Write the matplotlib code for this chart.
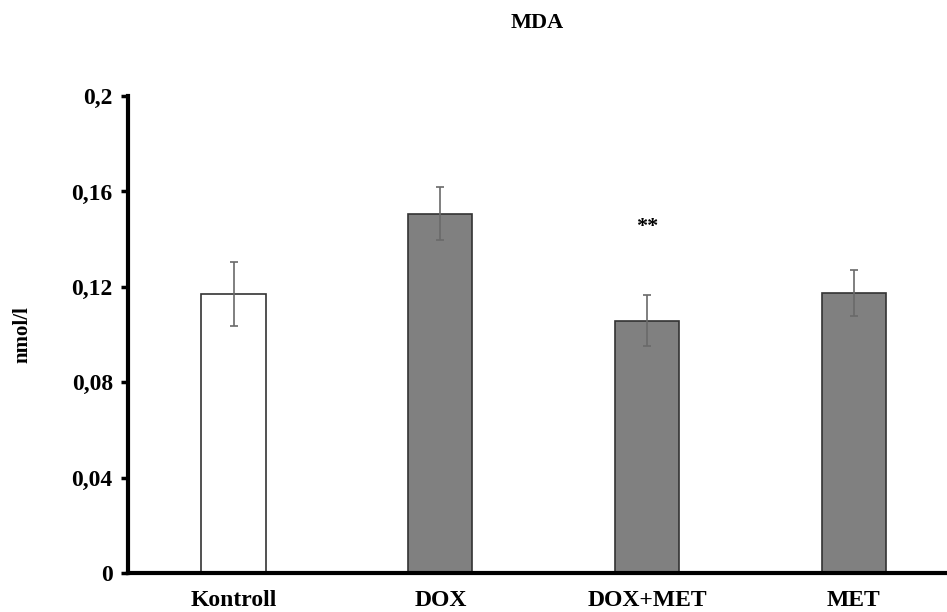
import matplotlib.pyplot as plt

groups = ["Kontroll", "DOX", "DOX+MET", "MET"]
means = [0.117, 0.1507, 0.1058, 0.1175]
errors = [0.0135, 0.011, 0.0108, 0.0097]
fills = ["white", "#808080", "#808080", "#808080"]
tick_vals = [0, 0.04, 0.08, 0.12, 0.16, 0.2]
tick_labels = ["0", "0,04", "0,08", "0,12", "0,16", "0,2"]

plt.rcParams['font.family'] = ['Liberation Serif', 'DejaVu Serif']
plt.rcParams['font.weight'] = 'bold'

fig = plt.figure(figsize=(9.47, 6.12), dpi=100)
ax = fig.add_axes([0.1352, 0.0637, 0.8648, 0.7793])

x = list(range(len(groups)))
ax.bar(x, means, width=0.31, color=fills, edgecolor="#333333", linewidth=1.2,
       yerr=errors, error_kw=dict(ecolor="#6a6a6a", elinewidth=1.2, capsize=3, capthick=1.2))

# significance mark over DOX+MET
ax.text(2, 0.1452, "**", ha="center", va="center", fontsize=16, fontweight="bold")

ax.set_xlim(-0.51, 3.45)
ax.set_ylim(0, 0.2)
ax.set_yticks(tick_vals)
ax.set_yticklabels(tick_labels, fontsize=17, fontweight="bold")
ax.set_xticks(x)
ax.set_xticklabels(groups, fontsize=17, fontweight="bold")
ax.tick_params(axis="x", length=0, pad=12)
ax.tick_params(axis="y", length=5, width=2.5, direction="out", pad=6)

ax.spines["top"].set_visible(False)
ax.spines["right"].set_visible(False)
ax.spines["left"].set_linewidth(3)
ax.spines["bottom"].set_linewidth(3)

ax.set_ylabel("nmol/l", fontsize=15, fontweight="bold", labelpad=28)
fig.text(0.567, 0.962, "MDA", ha="center", va="center", fontsize=16, fontweight="bold")

fig.savefig("out.png", dpi=100)
